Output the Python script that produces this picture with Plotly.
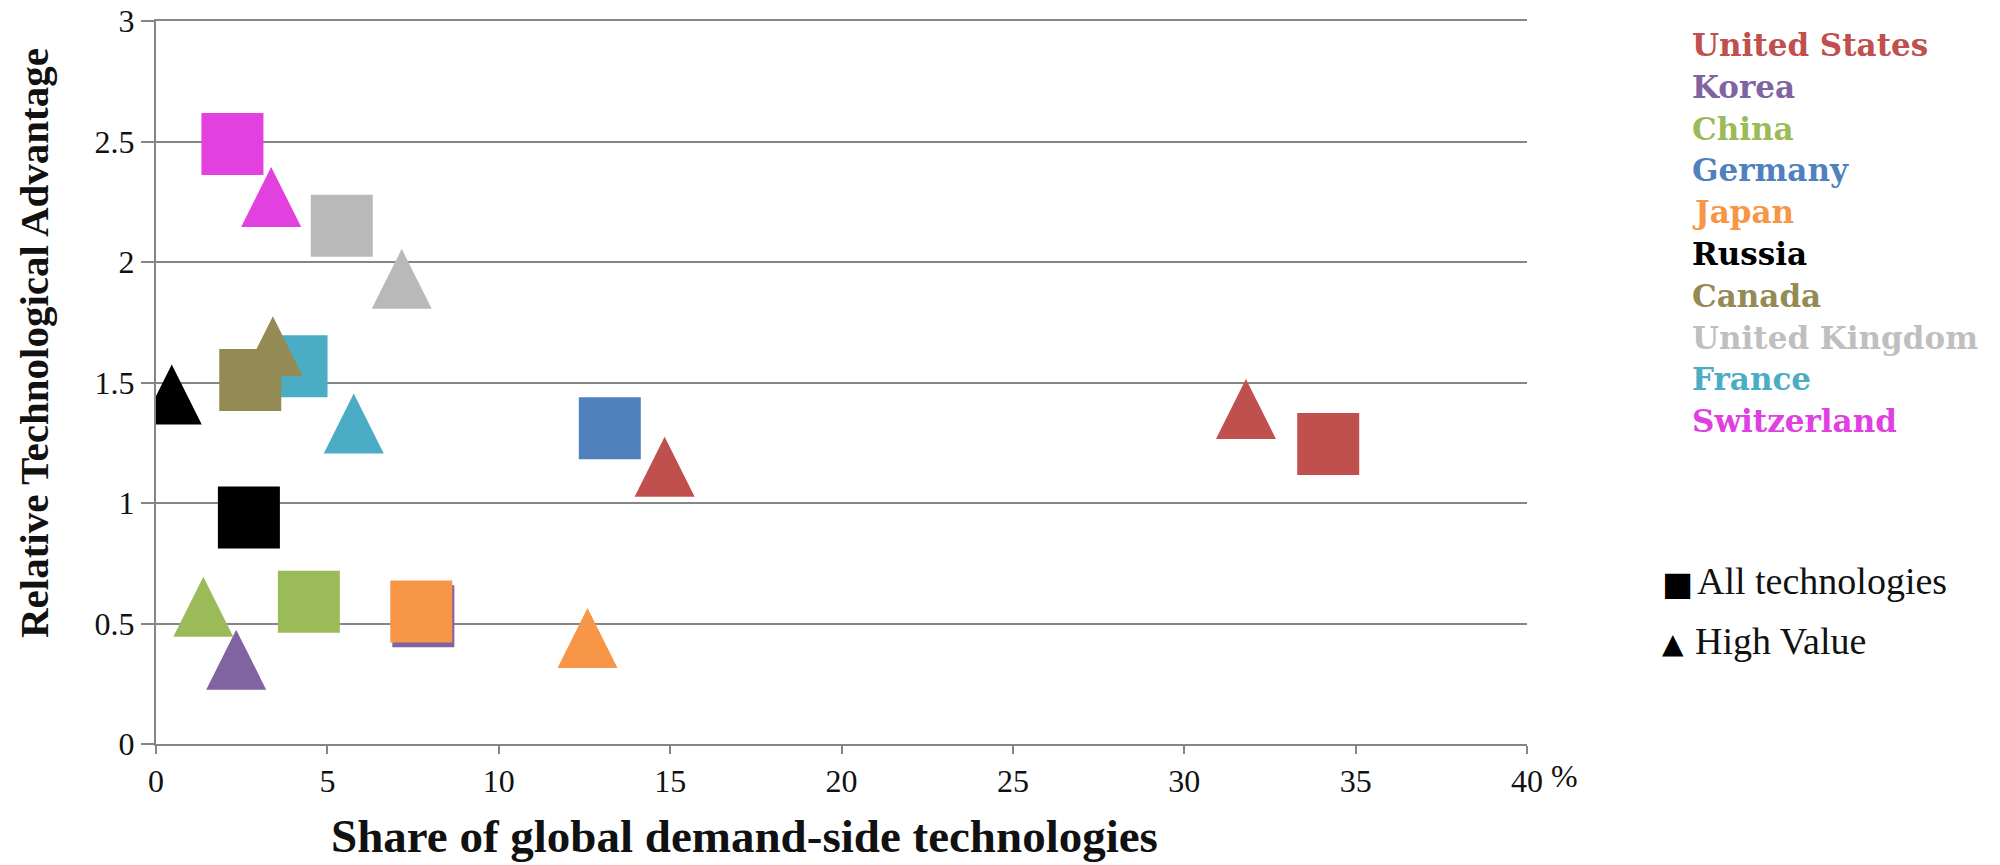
import plotly.graph_objects as go

# ---- data ----
legend_countries = ["United States", "Korea", "China", "Germany", "Japan",
                    "Russia", "Canada", "United Kingdom", "France", "Switzerland"]
legend_colors = ["#C0504D", "#8064A2", "#9BBB59", "#4F81BD", "#F79646",
                 "#000000", "#948A54", "#BFBFBF", "#4BACC6", "#E040E0"]

# "All technologies" (squares), listed in drawing order
sq_country = ["United States", "Korea", "China", "Germany", "Japan",
              "Russia", "France", "Canada", "United Kingdom", "Switzerland"]
sq_share = [34.2, 7.8, 4.46, 13.24, 7.74, 2.71, 4.10, 2.75, 5.42, 2.23]
sq_rta = [1.245, 0.53, 0.59, 1.31, 0.55, 0.94, 1.567, 1.51, 2.15, 2.49]
sq_color = ["#C0504D", "#8064A2", "#9BBB59", "#4F81BD", "#F79646",
            "#000000", "#4BACC6", "#948A54", "#B9B9B9", "#E340E0"]

# "High Value" (triangles)
tr_country = ["United States", "Korea", "China", "Germany", "Japan",
              "Russia", "Canada", "United Kingdom", "France", "Switzerland"]
tr_share = [31.8, 2.34, 1.38, 14.84, 12.59, 0.46, 3.41, 7.17, 5.77, 3.36]
tr_rta = [1.39, 0.35, 0.57, 1.15, 0.44, 1.45, 1.65, 1.93, 1.33, 2.27]
tr_color = ["#C0504D", "#8064A2", "#9BBB59", "#C0504D", "#F79646",
            "#000000", "#948A54", "#B9B9B9", "#4BACC6", "#E340E0"]

x_ticks = [0, 5, 10, 15, 20, 25, 30, 35, 40]
y_ticks = [0, 0.5, 1, 1.5, 2, 2.5, 3]
y_ticktext = ["0", "0.5", "1", "1.5", "2", "2.5", "3"]

SERIF = "Liberation Serif, Times New Roman, serif"
SERIF_B = "DejaVu Serif, serif"
SYM = "DejaVu Sans, sans-serif"

# plot area in pixels
L, T, PW, PH = 156, 21, 1371, 723


def px(xp):
    return (xp - L) / PW


def py(yp):
    return (T + PH - yp) / PH


fig = go.Figure()

fig.add_trace(go.Scatter(
    x=sq_share, y=sq_rta, mode="markers", name="All technologies",
    text=sq_country, showlegend=False,
    marker=dict(symbol="square", size=62, color=sq_color, line=dict(width=0)),
))

tri_size = 60
fig.add_trace(go.Scatter(
    x=tr_share, y=tr_rta, mode="markers", name="High Value",
    text=tr_country, showlegend=False,
    marker=dict(symbol="arrow-down", angle=180, standoff=tri_size / 2,
                size=tri_size, color=tr_color, line=dict(width=0)),
))

annotations = []
# country legend (coloured text)
for i, (name, col) in enumerate(zip(legend_countries, legend_colors)):
    ypx = 45 + 41.8 * i
    annotations.append(dict(
        text="<b>%s</b>" % name, xref="paper", yref="paper",
        x=px(1690), y=py(ypx),
        xanchor="left", yanchor="middle", showarrow=False,
        font=dict(family=SERIF_B, size=31, color=col),
    ))
# shape legend
annotations.append(dict(
    text="■", xref="paper", yref="paper", x=px(1660), y=py(583),
    xanchor="left", yanchor="middle", showarrow=False,
    font=dict(family=SYM, size=33, color="#000000"),
))
annotations.append(dict(
    text="All technologies", xref="paper", yref="paper", x=px(1695), y=py(581),
    xanchor="left", yanchor="middle", showarrow=False,
    font=dict(family=SERIF, size=38, color="#111111"),
))
annotations.append(dict(
    text="▲", xref="paper", yref="paper", x=px(1660), y=py(643),
    xanchor="left", yanchor="middle", showarrow=False,
    font=dict(family=SYM, size=28, color="#000000"),
))
annotations.append(dict(
    text="High Value", xref="paper", yref="paper", x=px(1693), y=py(641),
    xanchor="left", yanchor="middle", showarrow=False,
    font=dict(family=SERIF, size=38, color="#111111"),
))
# percent sign after last x tick
annotations.append(dict(
    text="%", xref="paper", yref="paper", x=px(1564), y=py(776),
    xanchor="center", yanchor="middle", showarrow=False,
    font=dict(family=SERIF, size=32, color="#111111"),
))
# axis titles
annotations.append(dict(
    text="<b>Share of global demand-side technologies</b>", xref="paper", yref="paper",
    x=px(744), y=py(864),
    xanchor="center", yanchor="bottom", showarrow=False,
    font=dict(family=SERIF, size=47, color="#111111"),
))
annotations.append(dict(
    text="<b>Relative Technological Advantage</b>", xref="paper", yref="paper",
    x=px(34), y=py(343), textangle=-90,
    xanchor="center", yanchor="middle", showarrow=False,
    font=dict(family=SERIF, size=41, color="#111111"),
))

fig.update_layout(
    width=2000, height=865,
    margin=dict(l=L, r=2000 - L - PW, t=T, b=865 - T - PH, autoexpand=False),
    paper_bgcolor="white", plot_bgcolor="white",
    showlegend=False,
    annotations=annotations,
    xaxis=dict(range=[0, 40], tickvals=x_ticks, ticktext=[str(v) for v in x_ticks],
               showgrid=False, zeroline=False, showline=True, mirror=True,
               linecolor="#868686", linewidth=2,
               ticks="outside", ticklen=8, tickwidth=2, tickcolor="#868686",
               automargin=False,
               tickfont=dict(family=SERIF, size=32, color="#111111")),
    yaxis=dict(range=[0, 3], tickvals=y_ticks, ticktext=y_ticktext,
               showgrid=True, gridcolor="#868686", gridwidth=2, zeroline=False,
               showline=True, linecolor="#868686", linewidth=2,
               ticks="outside", ticklen=13, tickwidth=2, tickcolor="#868686",
               automargin=False,
               tickfont=dict(family=SERIF, size=32, color="#111111")),
)

fig.write_html("out.html", config={"displayModeBar": False},
               post_script="document.body.style.margin='0';document.body.style.overflow='hidden';")
